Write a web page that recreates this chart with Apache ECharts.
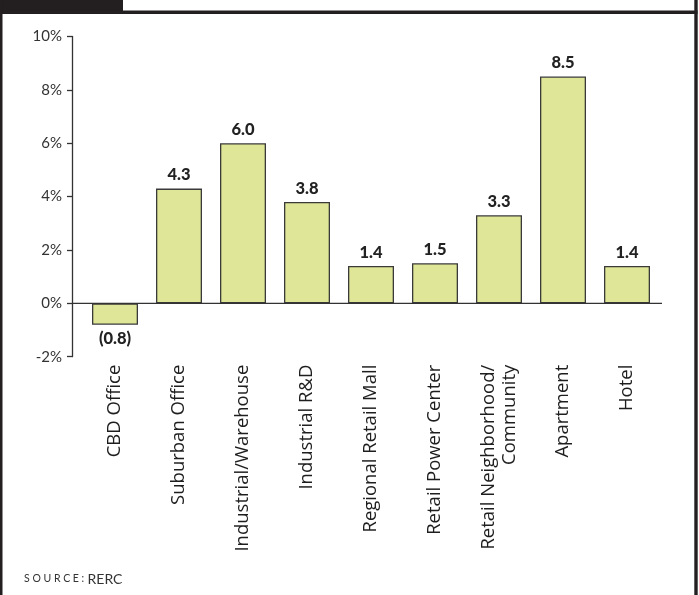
<!DOCTYPE html>
<html>
<head>
<meta charset="utf-8">
<style>
  html, body { margin: 0; padding: 0; background: #fff; }
  #chart { width: 699px; height: 595px; }
</style>
<script src="https://cdn.jsdelivr.net/npm/echarts@6/dist/echarts.min.js"></script>
</head>
<body>
<div id="chart"></div>
<script>
// Property sectors and their values (percent)
const categories = [
  'CBD Office',
  'Suburban Office',
  'Industrial/Warehouse',
  'Industrial R&D',
  'Regional Retail Mall',
  'Retail Power Center',
  'Retail Neighborhood/\nCommunity',
  'Apartment',
  'Hotel'
];
const values = [-0.8, 4.3, 6.0, 3.8, 1.4, 1.5, 3.3, 8.5, 1.4];

// Value axis range and step
const yMin = -2;
const yMax = 10;
const yStep = 2;

const barColor = '#dfe697';
const inkColor = '#333333';

const chart = echarts.init(document.getElementById('chart'), null, { renderer: 'canvas' });

function valueLabel(v) {
  return v < 0 ? '(' + Math.abs(v).toFixed(1) + ')' : v.toFixed(1);
}

chart.setOption({
  animation: false,
  backgroundColor: '#ffffff',
  grid: { left: 83, right: 40, top: 36.5, bottom: 238.3, containLabel: false },
  xAxis: {
    type: 'category',
    data: categories,
    position: 'bottom',
    axisLine: { show: false, onZero: false },
    axisTick: { show: false },
    axisLabel: {
      rotate: 90,
      margin: 8,
      interval: 0,
      fontFamily: 'Open Sans',
      fontSize: 18.5,
      color: '#1e1e1e',
      lineHeight: 21
    }
  },
  yAxis: {
    type: 'value',
    min: yMin,
    max: yMax,
    interval: yStep,
    offset: 11,
    splitLine: { show: false },
    axisLine: { show: true, lineStyle: { color: inkColor, width: 1.3 } },
    axisTick: { show: true, inside: false, length: 5, lineStyle: { color: inkColor, width: 1.3 } },
    axisLabel: {
      margin: 10,
      fontFamily: 'Lato',
      fontSize: 15,
      color: inkColor,
      formatter: v => v + '%'
    }
  },
  series: [{
    type: 'bar',
    // negative values carry their label beneath the bar
    data: values.map(v => v < 0
      ? { value: v, label: { position: 'bottom', distance: 5 } }
      : v),
    barWidth: 46,
    itemStyle: { color: barColor, borderColor: '#3a3a3a', borderWidth: 1.3 },
    label: {
      show: true,
      position: 'top',
      distance: 5,
      fontFamily: 'Lato',
      fontWeight: 900,
      fontSize: 16.5,
      color: '#222',
      formatter: p => valueLabel(p.value)
    }
  }]
});

// Zero baseline runs from the value axis across the plot
const zeroY = chart.convertToPixel({ yAxisIndex: 0 }, 0);
const axisX = chart.convertToPixel({ xAxisIndex: 0 }, 0) - 32 - 11;

chart.setOption({
  graphic: [
    // zero line
    { type: 'line', shape: { x1: axisX, y1: zeroY, x2: 662, y2: zeroY },
      style: { stroke: inkColor, lineWidth: 1.3 }, z: 10 },
    // header band and frame
    { type: 'rect', shape: { x: 0, y: 0, width: 123, height: 14 }, style: { fill: '#231f20' } },
    { type: 'rect', shape: { x: 0, y: 10.5, width: 697.5, height: 3.5 }, style: { fill: '#231f20' } },
    { type: 'rect', shape: { x: 0, y: 0, width: 2.5, height: 595 }, style: { fill: '#231f20' } },
    { type: 'rect', shape: { x: 694.3, y: 0, width: 3.4, height: 595 }, style: { fill: '#231f20' } },
    // source note
    {
      type: 'text', left: 24, top: 572,
      style: {
        text: '{a|S O U R C E :} {b|RERC}',
        rich: {
          a: { fontFamily: 'Lato', fontSize: 10.5, fill: '#333' },
          b: { fontFamily: 'Lato', fontSize: 14, fill: '#333' }
        }
      }
    }
  ]
});
</script>
</body>
</html>
